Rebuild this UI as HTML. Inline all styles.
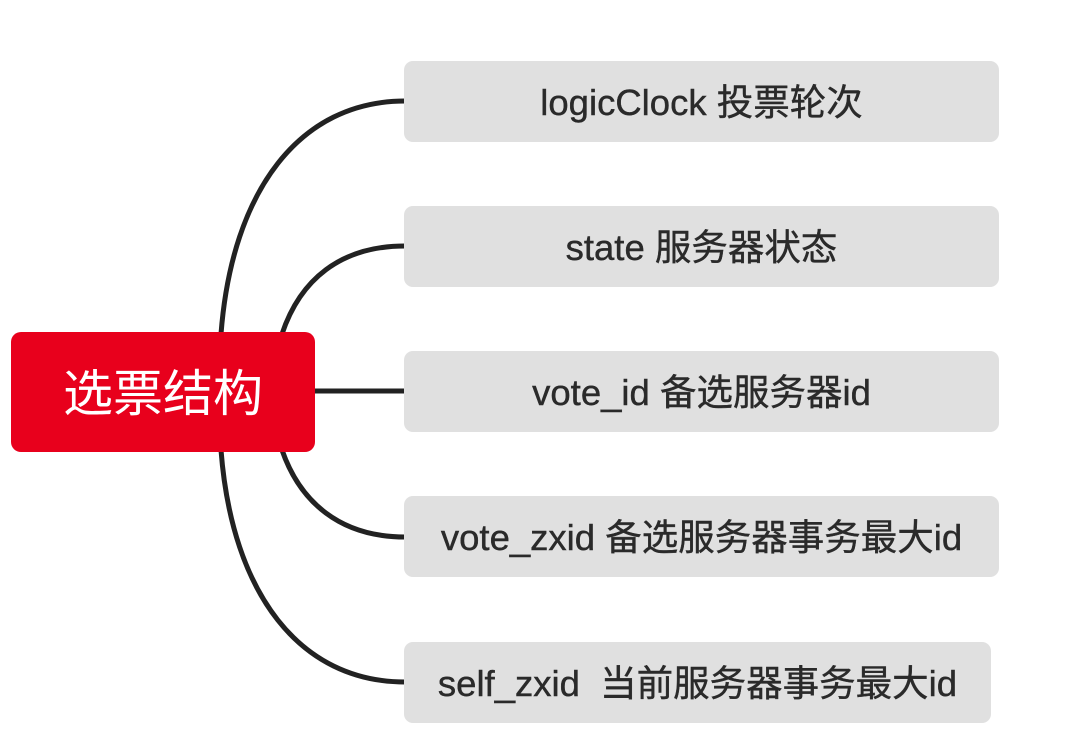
<!DOCTYPE html>
<html><head><meta charset="utf-8"><style>
html,body{margin:0;padding:0;background:#fff;}
body{width:1080px;height:743px;position:relative;overflow:hidden;font-family:"Liberation Sans","Noto Sans CJK SC",sans-serif;}
.root{position:absolute;left:11px;top:332px;width:304px;height:120px;background:#e8001c;border-radius:10px;color:#fff;font-size:50px;display:flex;align-items:center;justify-content:center;padding-bottom:4px;box-sizing:border-box;}
.n{position:absolute;left:404px;width:595px;height:81px;background:#e0e0e0;border-radius:9px;color:#2a2a2a;font-size:36.5px;display:flex;align-items:center;justify-content:center;white-space:pre;padding-bottom:4px;box-sizing:border-box;-webkit-text-stroke:0.4px #2a2a2a;}
svg{position:absolute;left:0;top:0;}
</style></head><body>
<svg width="1080" height="743"><g fill="none" stroke="#222" stroke-width="5">
<path d="M221 334 C 232 190, 300 101, 405 101"/>
<path d="M282 334 C 300 280, 340 246, 405 246"/>
<path d="M315 391 L 405 391"/>
<path d="M282 450 C 300 502, 340 537, 405 537"/>
<path d="M221 450 C 232 594, 300 682, 405 682"/>
</g></svg>
<div class="root">选票结构</div>
<div class="n" style="top:61px">logicClock 投票轮次</div>
<div class="n" style="top:206px">state 服务器状态</div>
<div class="n" style="top:351px">vote_id 备选服务器id</div>
<div class="n" style="top:496px">vote_zxid 备选服务器事务最大id</div>
<div class="n" style="top:642px;width:587px">self_zxid  当前服务器事务最大id</div>
</body></html>
